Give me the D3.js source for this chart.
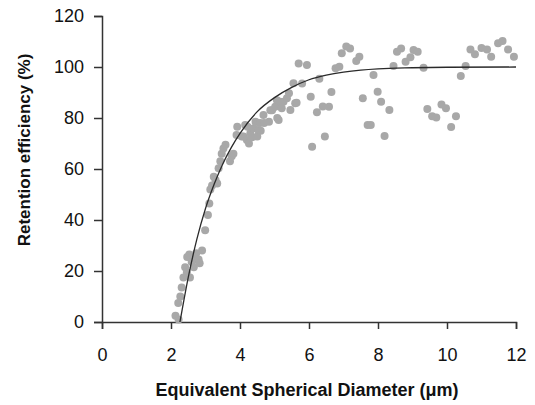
<!DOCTYPE html>
<html>
<head>
<meta charset="utf-8">
<script src="https://cdn.jsdelivr.net/npm/d3@7"></script>
<style>
    body { margin: 0; background: #fff; }
    svg text { font-family: Arial, "Liberation Sans", sans-serif; fill: #111; }
</style>
</head>
<body>
<div id="chart"></div>
<script>

// measured points: [diameter (um), retention (%)]
var diameters = [2.13, 2.22, 2.21, 2.27, 2.31, 2.36, 2.41, 2.46, 2.47, 2.53, 2.55, 2.6, 2.66, 2.7, 2.73, 2.8, 2.83, 2.9, 2.99, 3.07,
    3.11, 3.14, 3.19, 3.24, 3.29, 3.34, 3.38, 3.43, 3.47, 3.52, 3.58, 3.71, 3.76, 3.81, 3.9, 3.92, 4.05, 4.1, 4.15, 4.2,
    4.22, 4.26, 4.3, 4.35, 4.4, 4.45, 4.5, 4.53, 4.58, 4.6, 4.68, 4.7, 4.84, 4.88, 4.93, 5.02, 5.07, 5.08, 5.12, 5.16,
    5.21, 5.26, 5.36, 5.42, 5.46, 5.55, 5.6, 5.64, 5.7, 5.8, 5.94, 6.05, 6.09, 6.23, 6.3, 6.4, 6.46, 6.58, 6.65, 6.77,
    6.88, 6.95, 7.08, 7.19, 7.37, 7.46, 7.56, 7.7, 7.79, 7.87, 7.99, 8.09, 8.19, 8.33, 8.45, 8.55, 8.67, 8.8, 8.94, 9.03,
    9.15, 9.32, 9.43, 9.57, 9.69, 9.84, 9.97, 10.12, 10.26, 10.4, 10.54, 10.68, 10.81, 11.0, 11.16, 11.28, 11.48, 11.61, 11.77, 11.94];
var retention = [2.5, 1, 7.5, 10, 13.5, 17.5, 21.5, 19.5, 25.5, 26.5, 17.5, 23.5, 21.5, 24.5, 27, 24.5, 23, 28, 36, 42,
    46.5, 52, 53.5, 57, 55.7, 54.3, 60.3, 63, 66, 68, 69.5, 63, 65, 66, 73.3, 76.6, 72.7, 72.7, 77.3, 71.4,
    76.6, 70, 74, 72.5, 76, 78.5, 72.7, 75.3, 78, 75, 81.2, 78, 78.5, 83, 83, 84.4, 87, 80, 79.2, 86.4,
    83.8, 86.4, 87.7, 89.7, 83.1, 93.6, 85.8, 86, 101.4, 93.5, 100.8, 88.3, 68.7, 82.3, 95.4, 84.5, 72.7, 84.4, 90.2, 99.5,
    100.1, 105.4, 108, 107.3, 102.4, 104, 87.7, 77.3, 77.3, 96.9, 90.3, 86.4, 72.9, 83.1, 100.4, 106, 107.3, 102.1, 103.8, 106.7,
    106, 99.7, 83.5, 80.7, 80.2, 85.3, 83.8, 76.5, 80.7, 96.5, 100.4, 106.9, 105, 107.5, 106.9, 104, 109.3, 110.2, 106.9, 104];

// fitted curve
var fitX = [2.26, 2.5, 2.75, 3, 3.25, 3.5, 3.75, 4, 4.5, 5, 5.5, 6, 6.5, 7, 7.5, 8, 9, 10, 12];
var fitY = [0, 17.5, 32.5, 44.5, 54, 62, 68.5, 74, 82.5, 88, 92, 95, 96.8, 98, 98.8, 99.3, 99.7, 99.9, 100];

var xTicks = [0, 2, 4, 6, 8, 10, 12];
var yTicks = [0, 20, 40, 60, 80, 100, 120];

var width = 535, height = 405;
var margin = { left: 102, top: 16, right: 19, bottom: 83 };
var innerW = width - margin.left - margin.right;
var innerH = height - margin.top - margin.bottom;

var svg = d3.select('#chart')
    .append('svg')
    .attr('width', width)
    .attr('height', height);

var canvas = svg.append('g')
    .attr('transform', 'translate(' + [margin.left, margin.top] + ')');

var x = d3.scaleLinear().domain([0, 12]).range([0, innerW]);
var y = d3.scaleLinear().domain([0, 120]).range([innerH, 0]);

var xAxis = canvas.append('g')
    .attr('transform', 'translate(0,' + innerH + ')')
    .call(d3.axisBottom(x).tickValues(xTicks).tickSize(7).tickSizeOuter(7).tickPadding(19));

var yAxis = canvas.append('g')
    .call(d3.axisLeft(y).tickValues(yTicks).tickSize(8).tickSizeOuter(8).tickPadding(10));

[xAxis, yAxis].forEach(function(a) {
    a.select('.domain').attr('stroke', '#333').attr('stroke-width', 1.5);
    a.selectAll('.tick line').attr('stroke', '#333').attr('stroke-width', 1.5);
    a.selectAll('.tick text')
        .style('font-size', '18px')
        .style('fill', '#111');
});

var points = diameters.map(function(d, i) {
    return { d: d, r: retention[i] };
});

canvas.selectAll('circle.pt')
    .data(points)
    .enter()
    .append('circle')
    .attr('class', 'pt')
    .attr('cx', d => x(d.d))
    .attr('cy', d => y(d.r))
    .attr('r', 4)
    .style('fill', '#a8a8a8');

var fit = fitX.map(function(d, i) {
    return [d, fitY[i]];
});

canvas.append('path')
    .datum(fit)
    .attr('fill', 'none')
    .attr('stroke', '#2a2a2a')
    .attr('stroke-width', 1.3)
    .attr('d', d3.line()
        .x(d => x(d[0]))
        .y(d => y(d[1]))
        .curve(d3.curveMonotoneX));

svg.append('text')
    .attr('x', 307)
    .attr('y', 396)
    .attr('text-anchor', 'middle')
    .style('font-size', '18px')
    .style('font-weight', 'bold')
    .text('Equivalent Spherical Diameter (μm)');

svg.append('text')
    .attr('transform', 'translate(30,150) rotate(-90)')
    .attr('text-anchor', 'middle')
    .style('font-size', '17px')
    .style('font-weight', 'bold')
    .text('Retention efficiency (%)');

</script>
</body>
</html>
